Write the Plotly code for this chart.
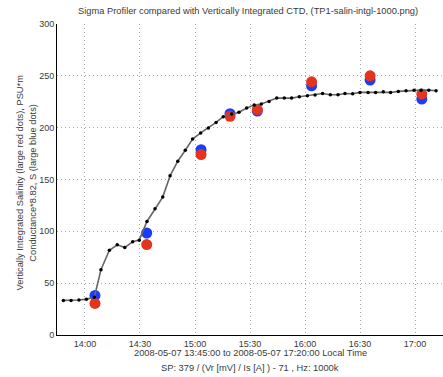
import plotly.graph_objects as go

# Sigma profiler (black line with small dots)
line_time = [
    "2008-05-07 13:48:12", "2008-05-07 13:52:24", "2008-05-07 13:56:42", "2008-05-07 14:00:48",
    "2008-05-07 14:05:06", "2008-05-07 14:08:42", "2008-05-07 14:13:18", "2008-05-07 14:17:36",
    "2008-05-07 14:21:42", "2008-05-07 14:26:00", "2008-05-07 14:29:36", "2008-05-07 14:33:48",
    "2008-05-07 14:38:12", "2008-05-07 14:42:24", "2008-05-07 14:46:24", "2008-05-07 14:50:36",
    "2008-05-07 14:54:42", "2008-05-07 14:58:42", "2008-05-07 15:03:06", "2008-05-07 15:07:18",
    "2008-05-07 15:11:30", "2008-05-07 15:15:24", "2008-05-07 15:20:00", "2008-05-07 15:24:00",
    "2008-05-07 15:28:12", "2008-05-07 15:32:18", "2008-05-07 15:36:12", "2008-05-07 15:40:24",
    "2008-05-07 15:44:36", "2008-05-07 15:48:42", "2008-05-07 15:52:42", "2008-05-07 15:56:54",
    "2008-05-07 16:01:18", "2008-05-07 16:05:30", "2008-05-07 16:09:36", "2008-05-07 16:13:48",
    "2008-05-07 16:18:00", "2008-05-07 16:21:48", "2008-05-07 16:26:00", "2008-05-07 16:30:00",
    "2008-05-07 16:34:24", "2008-05-07 16:38:30", "2008-05-07 16:42:42", "2008-05-07 16:46:42",
    "2008-05-07 16:50:54", "2008-05-07 16:55:06", "2008-05-07 16:59:30", "2008-05-07 17:03:18",
    "2008-05-07 17:07:30", "2008-05-07 17:11:30",
]
line_value = [
    33.4, 33.4, 33.7, 34.6, 36.4, 63.0, 81.7, 87.0, 84.3, 90.0,
    91.5, 109.5, 121.8, 133.0, 153.5, 167.6, 178.2, 189.0, 194.9, 199.7,
    205.0, 210.6, 213.2, 214.8, 219.0, 221.8, 222.8, 225.3, 228.5, 228.5,
    228.5, 229.8, 230.8, 231.4, 233.0, 231.7, 231.7, 233.0, 232.7, 234.0,
    234.0, 234.0, 234.6, 234.0, 235.0, 235.6, 236.2, 236.2, 236.2, 235.6,
]

# CTD casts
ctd_time = [
    "2008-05-07 14:05:27", "2008-05-07 14:33:40", "2008-05-07 15:03:18", "2008-05-07 15:19:06",
    "2008-05-07 15:34:00", "2008-05-07 16:03:36", "2008-05-07 16:35:30", "2008-05-07 17:03:42",
]
salinity_red = [30.5, 87.2, 174.0, 211.0, 217.5, 244.2, 250.0, 232.4]
conductance_blue = [38.2, 98.4, 178.8, 213.5, 216.0, 240.4, 245.9, 227.6]

y_ticks = [0, 50, 100, 150, 200, 250, 300]
x_ticks = ["2008-05-07 14:00", "2008-05-07 14:30", "2008-05-07 15:00", "2008-05-07 15:30",
           "2008-05-07 16:00", "2008-05-07 16:30", "2008-05-07 17:00"]
x_tick_text = ["14:00", "14:30", "15:00", "15:30", "16:00", "16:30", "17:00"]

font = "Liberation Sans, Arial, sans-serif"
txt = "#3a3a3a"

fig = go.Figure()
fig.add_trace(go.Scatter(
    x=ctd_time, y=conductance_blue, mode="markers",
    marker=dict(color="#1a3cff", size=11, line=dict(width=0)), showlegend=False))
fig.add_trace(go.Scatter(
    x=ctd_time, y=salinity_red, mode="markers",
    marker=dict(color="#e5341c", size=11, line=dict(width=0)), showlegend=False))
fig.add_trace(go.Scatter(
    x=line_time, y=line_value, mode="lines+markers",
    line=dict(color="#666666", width=1.6),
    marker=dict(color="black", size=3.5), showlegend=False))

grid = dict(showgrid=True, gridcolor="#aaaaaa", griddash="1px,3px", gridwidth=1,
            showline=True, linecolor="black", linewidth=1,
            ticks="", zeroline=False, tickfont=dict(size=9), automargin=False)

fig.update_layout(
    width=443, height=377,
    margin=dict(l=57, r=0, t=24, b=42),
    paper_bgcolor="white", plot_bgcolor="white",
    font=dict(family=font, size=9, color=txt),
    title=dict(text="Sigma Profiler compared with Vertically Integrated CTD, (TP1-salin-intgl-1000.png)",
               x=0.56, xanchor="center", y=0.972, yanchor="middle",
               font=dict(size=9.3, color=txt)),
    xaxis=dict(range=["2008-05-07 13:44:44", "2008-05-07 17:15:16"],
               tickvals=x_ticks, ticktext=x_tick_text, **grid),
    yaxis=dict(range=[0, 300], tickvals=y_ticks, **grid),
    annotations=[
        dict(text="Vertically Integrated Salinity (large red dots), PSU*m",
             xref="paper", yref="paper", x=-0.096, y=0.49, xanchor="center", yanchor="middle",
             textangle=-90, showarrow=False, font=dict(size=9.3)),
        dict(text="Conductance*8.82, S (large blue dots)",
             xref="paper", yref="paper", x=-0.062, y=0.49, xanchor="center", yanchor="middle",
             textangle=-90, showarrow=False, font=dict(size=9.3)),
        dict(text="2008-05-07 13:45:00 to 2008-05-07 17:20:00 Local Time",
             xref="paper", yref="paper", x=0.5, y=-0.058, xanchor="center", yanchor="middle",
             showarrow=False, font=dict(size=9.3)),
        dict(text="SP: 379 / (Vr [mV] / Is [A] ) - 71 , Hz: 1000k",
             xref="paper", yref="paper", x=0.5, y=-0.106, xanchor="center", yanchor="middle",
             showarrow=False, font=dict(size=9.3)),
    ],
)

fig.write_html("out.html", config={"displayModeBar": False},
               post_script="document.body.style.margin='0';")
